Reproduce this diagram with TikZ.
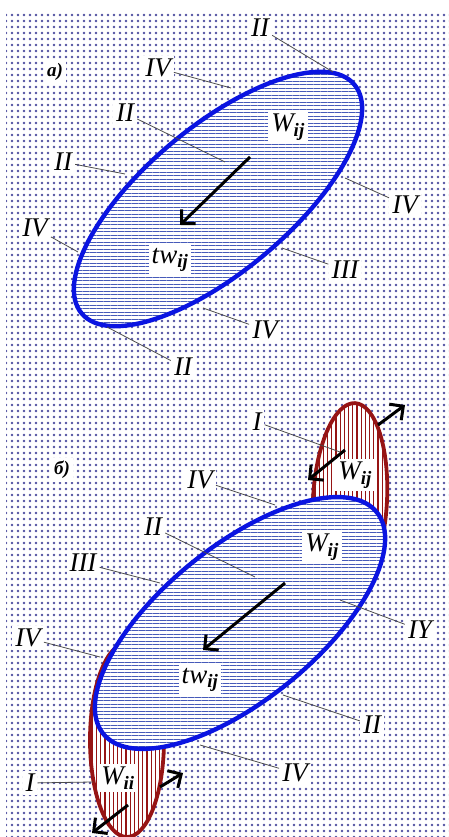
\documentclass[tikz,border=0pt]{standalone}
\usepackage{fontspec}
\setmainfont{Liberation Serif}
\usetikzlibrary{patterns.meta,arrows.meta}
\definecolor{dotblue}{RGB}{80,80,160}
\definecolor{lineblue}{RGB}{70,90,185}
\definecolor{rimblue}{RGB}{10,20,225}
\definecolor{rimred}{RGB}{150,20,20}
\newcommand{\wlab}[2]{#1\textsubscript{\bfseries #2}}

\begin{document}
\begin{tikzpicture}[x=1pt,y=1pt,
  lbl/.style={fill=white,inner sep=3pt,font=\fontsize{27}{30}\selectfont\itshape},
  part/.style={fill=white,inner sep=3pt,font=\fontsize{19}{22}\selectfont\bfseries\itshape},
  lead/.style={black!70,line width=0.8pt},
  bluezone/.style={draw=rimblue,line width=4.4pt,preaction={fill=white},
    pattern={Lines[angle=0,distance=3.5pt,line width=0.8pt]},pattern color=lineblue},
  redzone/.style={draw=rimred,line width=3.8pt,preaction={fill=white},
    pattern={Lines[angle=90,distance=4.2pt,line width=1.1pt]},pattern color=rimred},
  flow/.style={line width=3pt,-{Straight Barb[length=10pt,width=20pt]}}]
\useasboundingbox (0,0) rectangle (449,837);
\fill[pattern={Dots[distance=6pt,radius=1.4pt]},pattern color=dotblue] (6,0) rectangle (449,825);

% a)
\draw[bluezone] (218,638) ellipse [x radius=178,y radius=72.5,rotate=40];
\node[part] (pa) at (55,765) {a)};
\node[lbl] (wa) at (288,710) {\wlab{W}{ij}};
\node[lbl] (ta) at (170,577) {\wlab{tw}{ij}};
\coordinate (fa1) at (250,680);
\coordinate (fa2) at (180,612);
\draw[flow] (fa1) -- (fa2);

\node[lbl] (a1) at (260,809) {II};  \coordinate (e1) at (333,765);
\node[lbl] (a2) at (158,769) {IV};  \coordinate (e2) at (231,749);
\node[lbl] (a3) at (125,724) {II};  \coordinate (e3) at (225,675);
\node[lbl] (a4) at (63,675) {II};   \coordinate (e4) at (125,663);
\node[lbl] (a5) at (35,609) {IV};   \coordinate (e5) at (78,585);
\node[lbl] (a6) at (405,632) {IV};  \coordinate (e6) at (345,659);
\node[lbl] (a7) at (345,567) {III}; \coordinate (e7) at (282,589);
\node[lbl] (a8) at (265,507) {IV};  \coordinate (e8) at (203,529);
\node[lbl] (a9) at (183,470) {II};  \coordinate (e9) at (107,510);
\foreach \i in {1,...,9}
  \draw[lead] (a\i) -- (e\i);

% b)
\draw[redzone] (350,337) ellipse [x radius=37,y radius=97,rotate=-3];
\draw[redzone] (127,97) ellipse [x radius=37,y radius=97];
\draw[bluezone] (240,214) ellipse [x radius=176,y radius=77,rotate=39];
\node[part] (pb) at (62,367) {б)};
\node[lbl] (wr) at (355,362) {\wlab{W}{ij}};
\node[lbl] (wb) at (322,290) {\wlab{W}{ij}};
\node[lbl] (tb) at (200,157) {\wlab{tw}{ij}};
\node[lbl] (wl) at (118,59) {\wlab{W}{ii}};
\coordinate (fb1) at (285,254);
\coordinate (fb2) at (203,187);
\draw[flow] (fb1) -- (fb2);
\coordinate (ru1) at (345,387);
\coordinate (ru2) at (308,357);
\coordinate (ru3) at (378,412);
\coordinate (ru4) at (405,432);
\draw[flow] (ru1) -- (ru2);
\draw[flow] (ru3) -- (ru4);
\coordinate (rl1) at (160,50);
\coordinate (rl2) at (183,64);
\coordinate (rl3) at (128,32);
\coordinate (rl4) at (92,4);
\draw[flow] (rl1) -- (rl2);
\draw[flow] (rl3) -- (rl4);

\node[lbl] (b1) at (257,415) {I};   \coordinate (f1) at (340,385);
\node[lbl] (b2) at (200,357) {IV};  \coordinate (f2) at (275,332);
\node[lbl] (b3) at (153,310) {II};  \coordinate (f3) at (255,260);
\node[lbl] (b4) at (83,274) {III};  \coordinate (f4) at (160,254);
\node[lbl] (b5) at (420,207) {IY};  \coordinate (f5) at (340,237);
\node[lbl] (b6) at (28,199) {IV};   \coordinate (f6) at (100,180);
\node[lbl] (b7) at (372,112) {II};  \coordinate (f7) at (283,142);
\node[lbl] (b8) at (295,64) {IV};   \coordinate (f8) at (200,92);
\node[lbl] (b9) at (30,54) {I};     \coordinate (f9) at (93,55);
\foreach \i in {1,...,9}
  \draw[lead] (b\i) -- (f\i);
\end{tikzpicture}
\end{document}
